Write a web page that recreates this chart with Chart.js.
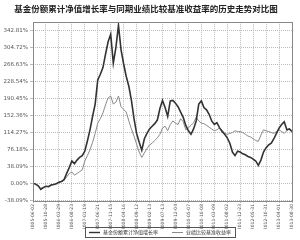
<!DOCTYPE html>
<html>
<head>
<meta charset="utf-8">
<script src="https://cdn.jsdelivr.net/npm/chart.js@4.4.0/dist/chart.umd.min.js"></script>
<style>
  html, body { margin: 0; padding: 0; background: #fff; }
  #wrap { width: 300px; height: 240px; }
</style>
</head>
<body>
<div id="wrap"><canvas id="chart" width="300" height="240"></canvas></div>
<script>
// Tick labels
const xLabels = [
    '2005-06-02', '2005-10-28', '2006-03-29', '2006-08-23', '2007-01-19',
    '2007-06-21', '2007-11-15', '2008-04-16', '2008-09-12', '2009-02-13',
    '2009-07-13', '2009-12-04', '2010-05-07', '2010-10-08', '2011-03-09',
    '2011-08-02', '2011-12-23', '2012-05-31', '2012-10-31', '2013-04-01',
    '2013-08-30'
];
const yTicks = [-38.09, 0, 38.09, 76.18, 114.27, 152.36, 190.45, 228.54, 266.63, 304.72, 342.81];

// Series values (%), one every 1/5 of an x label interval
const fund = [
    0, -2, -6, -14, -10, -7, -8, -4, -3, -1,
    2, 4, 8, 22, 35, 50, 44, 52, 58, 62,
    72, 95, 120, 150, 178, 232, 245, 260, 290, 318,
    335, 270, 305, 355, 300, 268, 240, 218, 186, 145,
    112, 92, 74, 100, 112, 122, 128, 134, 142, 168,
    186, 170, 150, 185, 186, 180, 172, 160, 148, 130,
    118, 110, 122, 140, 178, 185, 170, 165, 155, 140,
    132, 136, 125, 116, 110, 102, 90, 70, 62, 72,
    70, 66, 64, 60, 58, 54, 50, 40, 52, 70,
    80, 86, 90, 100, 112, 124, 132, 138, 120, 122,
    116
];
const bench = [
    0, -2, -5, -12, -9, -7, -7, -4, -3, -1,
    2, 4, 7, 14, 22, 25, 18, 22, 26, 30,
    50, 62, 75, 92, 112, 135, 145, 158, 176, 192,
    196, 178, 182, 196, 172, 166, 160, 140, 122, 106,
    88, 70, 58, 68, 78, 86, 90, 96, 102, 110,
    124, 128, 118, 132, 140, 135, 132, 145, 138, 120,
    125, 130, 136, 148, 140, 135, 134, 130, 126, 122,
    118, 120, 124, 120, 112, 110, 112, 114, 118, 116,
    116, 114, 110, 106, 104, 100, 96, 94, 108, 120,
    118, 116, 114, 112, 116, 120, 116, 112, 118, 122,
    118
];

const seriesNames = ['基金份额累计净值增长率', '业绩比较基准收益率'];
const seriesColors = ['#333', '#8a8a8a'];

const toPoints = arr => arr.map((v, i) => ({ x: i, y: v }));

// frame around plot + boxed legend under the axis labels
const framePlugin = {
    id: 'frame',
    afterDraw(chart) {
        const { ctx, chartArea } = chart;
        ctx.save();
        ctx.strokeStyle = '#888';
        ctx.lineWidth = 1;
        ctx.setLineDash([]);
        ctx.strokeRect(Math.round(chartArea.left) + 0.5, Math.round(chartArea.top) + 0.5,
            Math.round(chartArea.right - chartArea.left), Math.round(chartArea.bottom - chartArea.top));

        // legend
        ctx.font = '5px "Noto Sans CJK SC"';
        ctx.textBaseline = 'middle';
        const midY = 232.5;
        let x = 89;
        const startX = 85;
        chart.data.datasets.forEach((ds, i) => {
            ctx.strokeStyle = seriesColors[i];
            ctx.lineWidth = i === 0 ? 1.4 : 1;
            ctx.beginPath();
            ctx.moveTo(x, midY);
            ctx.lineTo(x + 11, midY);
            ctx.stroke();
            x += 14;
            ctx.fillStyle = '#333';
            ctx.fillText(ds.label, x, midY);
            x += ctx.measureText(ds.label).width + 14;
        });
        const endX = x - 10;
        ctx.strokeStyle = '#555';
        ctx.lineWidth = 1;
        ctx.strokeRect(startX + 0.5, 227.5, Math.round(endX - startX), 10);
        ctx.restore();
    }
};

new Chart(document.getElementById('chart').getContext('2d'), {
    type: 'line',
    data: {
        datasets: [{
            label: seriesNames[0],
            data: toPoints(fund),
            borderColor: seriesColors[0],
            borderWidth: 1.6,
            pointRadius: 0,
            tension: 0
        }, {
            label: seriesNames[1],
            data: toPoints(bench),
            borderColor: seriesColors[1],
            borderWidth: 1,
            pointRadius: 0,
            tension: 0
        }]
    },
    options: {
        responsive: false,
        animation: false,
        layout: { padding: { left: 0, right: 8, top: 0, bottom: 11 } },
        scales: {
            x: {
                type: 'linear',
                min: 0,
                max: 100,
                afterBuildTicks: axis => { axis.ticks = xLabels.map((_, i) => ({ value: i * 5 })); },
                afterFit: axis => { axis.height = 28; },
                ticks: {
                    autoSkip: false,
                    maxRotation: 90,
                    minRotation: 90,
                    padding: 1,
                    color: '#555',
                    font: { size: 4.5, family: 'DejaVu Sans' },
                    callback: v => xLabels[Math.round(v / 5)]
                },
                grid: { color: '#bbb', tickLength: 2 },
                border: { display: false, dash: [1, 1] }
            },
            y: {
                min: -40,
                max: 362,
                afterBuildTicks: axis => { axis.ticks = yTicks.map(v => ({ value: v })); },
                afterFit: axis => { axis.width = 33; },
                ticks: {
                    padding: 2,
                    color: '#555',
                    font: { size: 5.5, family: 'DejaVu Sans' },
                    callback: v => v.toFixed(2) + '%'
                },
                grid: { color: '#bbb', tickLength: 3 },
                border: { display: false, dash: [1, 1] }
            }
        },
        plugins: {
            title: {
                display: true,
                text: '基金份额累计净值增长率与同期业绩比较基准收益率的历史走势对比图',
                color: '#222',
                font: { size: 8.5, weight: 'bold', family: '"Noto Sans CJK SC"' },
                padding: { top: 4, bottom: 8 }
            },
            legend: { display: false },
            tooltip: { enabled: false }
        }
    },
    plugins: [framePlugin]
});
</script>
</body>
</html>
